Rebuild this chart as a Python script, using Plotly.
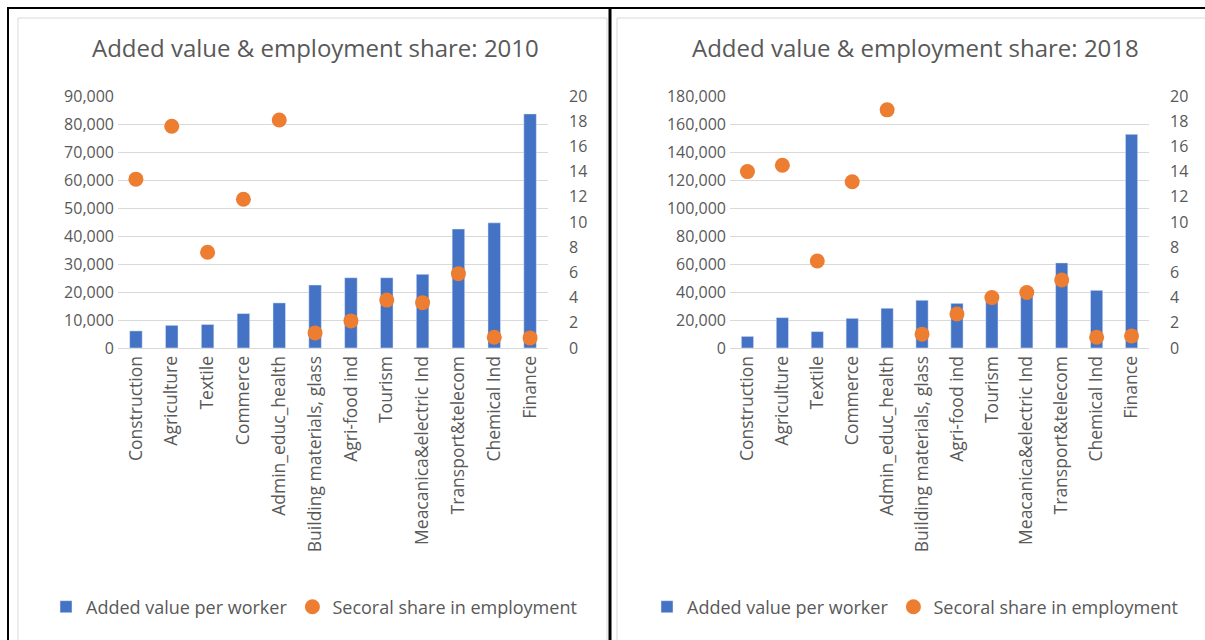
import plotly.graph_objects as go

categories = ["Construction", "Agriculture", "Textile", "Commerce", "Admin_educ_health",
              "Building materials, glass", "Agri-food ind", "Tourism",
              "Meacanica&electric Ind", "Transport&telecom", "Chemical Ind", "Finance"]

added_value_2010 = [6100, 8100, 8400, 12300, 16100, 22500, 25100, 25100, 26300, 42500, 44700, 83600]
emp_share_2010 = [13.4, 17.6, 7.6, 11.8, 18.1, 1.2, 2.15, 3.8, 3.6, 5.9, 0.85, 0.8]

added_value_2018 = [8300, 21700, 11700, 21200, 28400, 34100, 31900, 35500, 39500, 60800, 41200, 152600]
emp_share_2018 = [14.0, 14.5, 6.9, 13.2, 18.9, 1.1, 2.7, 4.0, 4.4, 5.4, 0.85, 0.95]

titles = ["Added value & employment share: 2010", "Added value & employment share: 2018"]
bar_name = "Added value per worker"
dot_name = "Secoral share in employment"

W, H = 1205, 640
FONT = "Open Sans"
GRAY = "#595959"
GRID = "#D9D9D9"
BLUE = "#4472C4"
ORANGE = "#ED7D31"

def px(x):
    return x / W

def py(y):
    return 1 - y / H

fig = go.Figure()

# Left chart
fig.add_trace(go.Bar(x=categories, y=added_value_2010, name=bar_name, marker_color=BLUE,
                     xaxis="x", yaxis="y", legend="legend"))
fig.add_trace(go.Scatter(x=categories, y=emp_share_2010, name=dot_name, mode="markers",
                         marker=dict(color=ORANGE, size=15), xaxis="x", yaxis="y2", legend="legend"))
# Right chart
fig.add_trace(go.Bar(x=categories, y=added_value_2018, name=bar_name, marker_color=BLUE,
                     xaxis="x2", yaxis="y3", legend="legend2"))
fig.add_trace(go.Scatter(x=categories, y=emp_share_2018, name=dot_name, mode="markers",
                         marker=dict(color=ORANGE, size=15), xaxis="x2", yaxis="y4", legend="legend2"))

ydom = [py(348), py(96)]
tickfont = dict(family=FONT, size=16, color=GRAY)
catfont = dict(family=FONT, size=17.5, color=GRAY)
ncat = len(categories)

xcommon = dict(type="category", tickangle=-90, tickfont=catfont, showgrid=False,
               range=[-0.5, ncat - 0.5], autorange=False,
               showline=True, linecolor=GRID, linewidth=1, ticks="", fixedrange=True,
               automargin=False)
ycommon = dict(showgrid=True, gridcolor=GRID, gridwidth=1, zeroline=False, ticks="",
               tickfont=tickfont, showline=False, ticklabelstandoff=3, automargin=False,
               fixedrange=True)
y2common = dict(side="right", range=[0, 20], dtick=2, showgrid=False,
                zeroline=False, ticks="", tickfont=tickfont, showline=False,
                ticklabelstandoff=20, automargin=False, fixedrange=True)

fig.update_layout(
    width=W, height=H,
    margin=dict(l=0, r=0, t=0, b=0, pad=0, autoexpand=False),
    paper_bgcolor="white", plot_bgcolor="white",
    bargap=0.65,
    xaxis=dict(domain=[px(118), px(548)], anchor="y", **xcommon),
    yaxis=dict(domain=ydom, anchor="x", range=[0, 90000], dtick=10000, tickformat=",", **ycommon),
    yaxis2=dict(y2common, overlaying="y", anchor="x"),
    xaxis2=dict(domain=[px(730), px(1149)], anchor="y3", **xcommon),
    yaxis3=dict(domain=ydom, anchor="x2", range=[0, 180000], dtick=20000, tickformat=",", **ycommon),
    yaxis4=dict(y2common, overlaying="y3", anchor="x2"),
    legend=dict(orientation="h", x=px(314), xanchor="center", y=py(607), yanchor="middle",
                font=dict(family=FONT, size=18, color=GRAY), itemwidth=30,
                bgcolor="rgba(0,0,0,0)"),
    legend2=dict(orientation="h", x=px(915), xanchor="center", y=py(607), yanchor="middle",
                 font=dict(family=FONT, size=18, color=GRAY), itemwidth=30,
                 bgcolor="rgba(0,0,0,0)"),
    annotations=[
        dict(text=titles[0], x=px(315), y=py(47), xref="paper", yref="paper",
             showarrow=False, xanchor="center", yanchor="middle",
             font=dict(family=FONT, size=24, color=GRAY)),
        dict(text=titles[1], x=px(915), y=py(47), xref="paper", yref="paper",
             showarrow=False, xanchor="center", yanchor="middle",
             font=dict(family=FONT, size=24, color=GRAY)),
    ],
    shapes=[
        # chart area borders
        dict(type="rect", xref="paper", yref="paper", x0=px(18), x1=px(607), y0=py(660), y1=py(18),
             line=dict(color=GRID, width=1), layer="below"),
        dict(type="rect", xref="paper", yref="paper", x0=px(617), x1=px(1220), y0=py(660), y1=py(18),
             line=dict(color=GRID, width=1), layer="below"),
        # table lines
        dict(type="line", xref="paper", yref="paper", x0=px(8), x1=px(8), y0=py(640), y1=py(7),
             line=dict(color="black", width=2)),
        dict(type="line", xref="paper", yref="paper", x0=px(7), x1=px(1205), y0=py(8), y1=py(8),
             line=dict(color="black", width=2)),
        dict(type="line", xref="paper", yref="paper", x0=px(610), x1=px(610), y0=py(640), y1=py(7),
             line=dict(color="black", width=3)),
    ],
)

fig.write_html("out.html",
               config={"displayModeBar": False},
               post_script="document.body.style.margin='0';document.body.style.overflow='hidden';")
